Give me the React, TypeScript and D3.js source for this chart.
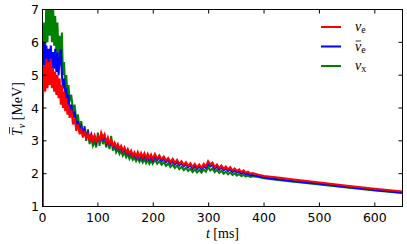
import React from 'react';
import * as d3 from 'd3';

// sample times [ms]
const TIME = [
  0,
  1, 3, 5, 7, 9, 11, 13, 15, 17, 19, 21, 23, 25, 27, 29, 31, 33, 35, 37, 39, 41, 43, 45, 47, 49,
  52, 55, 58, 61, 64, 67, 70, 73, 76, 79, 82, 85, 88, 91, 94, 97, 100, 103, 106, 109, 112, 115, 118, 121,
  124, 127, 130, 133, 136, 139, 142, 145, 148, 151, 154, 157, 160, 163, 166, 169, 172, 175, 178, 181,
  184, 187, 190, 193, 196, 199,
  203, 207, 211, 215, 219, 223, 227, 231, 235, 239, 243, 247, 251, 255, 259, 263, 267, 271, 275, 279,
  283, 287, 291, 295, 299, 303, 307, 311, 315, 319, 323, 327, 331, 335, 339, 343, 347, 351, 355, 359,
  363, 367, 371, 375, 379,
  390, 400, 425, 450, 500, 550, 600, 650,
];

// mean energies [MeV]
const NU_E = [
  1.0,
  4.4, 5.3, 4.5, 5.5, 4.6, 5.4, 4.7, 5.5, 4.6, 5.2, 4.5, 5.1, 4.4, 5.0, 4.3, 4.9, 4.1, 4.7, 4.0, 4.5, 3.9, 4.3, 3.8, 4.1, 3.7,
  3.95, 3.5, 3.7, 3.3, 3.5, 3.2, 3.35, 3.1, 3.3, 3.05, 3.25, 3.0, 3.2, 3.0, 3.15, 2.95, 3.15, 3.0, 3.25, 3.1, 3.2, 2.95, 3.1, 2.9,
  3.05, 2.85, 2.95, 2.8, 2.9, 2.75, 2.85, 2.7, 2.8, 2.65, 2.75, 2.6, 2.7, 2.55, 2.65, 2.52, 2.66, 2.5, 2.63, 2.5,
  2.62, 2.48, 2.6, 2.47, 2.58, 2.45,
  2.6, 2.46, 2.56, 2.44, 2.52, 2.4, 2.48, 2.36, 2.45, 2.33, 2.42, 2.3, 2.38, 2.27, 2.35, 2.24, 2.32, 2.2, 2.3, 2.19,
  2.28, 2.18, 2.3, 2.22, 2.38, 2.28, 2.34, 2.2, 2.28, 2.17, 2.25, 2.15, 2.22, 2.13, 2.2, 2.1, 2.16, 2.08, 2.13, 2.05,
  2.1, 2.03, 2.06, 2.0, 2.02,
  1.97, 1.93, 1.88, 1.83, 1.73, 1.63, 1.54, 1.46,
];

const NU_E_BAR = [
  1.0,
  5.2, 6.0, 5.3, 5.9, 5.2, 5.8, 5.3, 5.9, 5.2, 5.7, 5.2, 5.8, 5.1, 5.7, 5.0, 5.5, 5.8, 5.0, 4.6, 4.9, 4.3, 4.6, 4.1, 4.4, 3.9,
  4.1, 3.7, 3.9, 3.45, 3.6, 3.3, 3.45, 3.2, 3.35, 3.1, 3.25, 3.05, 3.2, 3.0, 3.15, 2.95, 3.1, 3.0, 3.2, 3.05, 3.15, 2.92, 3.05, 2.87,
  3.0, 2.82, 2.92, 2.77, 2.86, 2.72, 2.8, 2.67, 2.76, 2.62, 2.7, 2.57, 2.65, 2.52, 2.6, 2.48, 2.6, 2.46, 2.57, 2.45,
  2.56, 2.43, 2.54, 2.42, 2.52, 2.4,
  2.53, 2.41, 2.5, 2.38, 2.46, 2.35, 2.42, 2.31, 2.39, 2.28, 2.36, 2.25, 2.32, 2.22, 2.29, 2.19, 2.26, 2.15, 2.24, 2.14,
  2.22, 2.13, 2.24, 2.17, 2.3, 2.22, 2.27, 2.15, 2.22, 2.12, 2.19, 2.1, 2.16, 2.08, 2.14, 2.05, 2.1, 2.03, 2.07, 2.0,
  2.04, 1.98, 2.0, 1.95, 1.96,
  1.92, 1.88, 1.83, 1.78, 1.69, 1.59, 1.5, 1.42,
];

const NU_X = [
  1.0,
  5.6, 6.6, 5.8, 7.3, 6.0, 7.4, 6.2, 7.2, 6.0, 7.3, 5.9, 6.8, 5.7, 6.6, 5.5, 6.2, 5.3, 6.3, 5.0, 5.4, 4.6, 5.0, 4.4, 4.7, 4.2,
  4.4, 3.9, 4.1, 3.6, 3.8, 3.35, 3.6, 3.15, 3.45, 3.0, 3.35, 2.9, 3.1, 2.85, 3.0, 2.8, 3.25, 2.85, 3.2, 2.9, 3.05, 2.8, 3.0, 2.75,
  3.15, 2.7, 2.85, 2.65, 2.75, 2.6, 2.7, 2.55, 2.65, 2.5, 2.6, 2.45, 2.55, 2.42, 2.5, 2.38, 2.48, 2.36, 2.45, 2.34,
  2.44, 2.32, 2.42, 2.3, 2.4, 2.3,
  2.42, 2.3, 2.38, 2.27, 2.35, 2.24, 2.31, 2.2, 2.28, 2.17, 2.25, 2.14, 2.21, 2.11, 2.18, 2.08, 2.15, 2.05, 2.13, 2.04,
  2.11, 2.03, 2.13, 2.06, 2.2, 2.1, 2.16, 2.05, 2.12, 2.02, 2.09, 2.0, 2.06, 1.98, 2.04, 1.96, 2.01, 1.94, 1.99, 1.93,
  1.96, 1.91, 1.94, 1.9, 1.92,
  1.9, 1.86, 1.81, 1.76, 1.67, 1.58, 1.49, 1.41,
];

const X_TICKS = [0, 100, 200, 300, 400, 500, 600];
const Y_TICKS = [1, 2, 3, 4, 5, 6, 7];

const W = 407;
const H = 244;
const LEFT = 42.5, RIGHT = 402.5, TOP = 9.5, BOTTOM = 206.5;
const TICK = 4;

const SERIES = [
  { key: 'nux', values: NU_X, color: '#008000' },
  { key: 'nuebar', values: NU_E_BAR, color: '#0000ff' },
  { key: 'nue', values: NU_E, color: '#ff0000' },
];

const LEGEND = [
  { bar: false, sub: 'e', color: '#ff0000' },
  { bar: true, sub: 'e', color: '#0000ff' },
  { bar: false, sub: 'x', color: '#008000' },
];

export default function App() {
  const x = d3.scaleLinear().domain([0, 650]).range([LEFT, RIGHT]);
  const y = d3.scaleLinear().domain([1, 7]).range([BOTTOM, TOP]);
  const line = d3.line<number>().x((_, i) => x(TIME[i])).y(d => y(d));

  const serif = '"Liberation Serif", serif';
  const sans = '"DejaVu Sans", sans-serif';

  return (
    <svg width={W} height={H} style={{ position: 'absolute', left: 0, top: 0, background: '#fff' }}>
      <defs>
        <clipPath id="plot">
          <rect x={LEFT} y={TOP} width={RIGHT - LEFT} height={BOTTOM - TOP} />
        </clipPath>
      </defs>

      <g clipPath="url(#plot)">
        {SERIES.map(s => (
          <path key={s.key} d={line(s.values) || ''} fill="none" stroke={s.color} strokeWidth={2} />
        ))}
      </g>

      {/* frame + inward ticks */}
      <rect x={LEFT} y={TOP} width={RIGHT - LEFT} height={BOTTOM - TOP} fill="none" stroke="#000" strokeWidth={1} />
      {X_TICKS.map(t => (
        <g key={'xt' + t}>
          <line x1={x(t)} x2={x(t)} y1={BOTTOM} y2={BOTTOM - TICK} stroke="#000" />
          <line x1={x(t)} x2={x(t)} y1={TOP} y2={TOP + TICK} stroke="#000" />
          <text x={x(t)} y={221.7} textAnchor="middle" fontFamily={sans} fontSize={12.5}>{t}</text>
        </g>
      ))}
      {Y_TICKS.map(v => (
        <g key={'yt' + v}>
          <line x1={LEFT} x2={LEFT + TICK} y1={y(v)} y2={y(v)} stroke="#000" />
          <line x1={RIGHT} x2={RIGHT - TICK} y1={y(v)} y2={y(v)} stroke="#000" />
          <text x={39} y={y(v)} dy="0.36em" textAnchor="end" fontFamily={sans} fontSize={12.5}>{v}</text>
        </g>
      ))}

      {/* axis labels */}
      <text x={(LEFT + RIGHT) / 2} y={238} textAnchor="middle" fontFamily={serif} fontSize={14}>
        <tspan fontStyle="italic">t</tspan> [ms]
      </text>
      <g transform={`translate(22,${(TOP + BOTTOM) / 2}) rotate(-90)`}>
        <text x={-28} y={0} fontFamily={serif} fontSize={14}>
          <tspan fontStyle="italic">T</tspan>
          <tspan fontStyle="italic" fontSize={10} dy={3}>{'\u03bd'}</tspan>
          <tspan dy={-3}> [MeV]</tspan>
        </text>
        <line x1={-25.5} x2={-19} y1={-12.5} y2={-12.5} stroke="#000" strokeWidth={0.8} />
      </g>

      {/* legend */}
      {LEGEND.map((l, i) => {
        const ly = 27 + i * 19.5;
        return (
          <g key={'lg' + i}>
            <line x1={321} x2={341} y1={ly} y2={ly} stroke={l.color} strokeWidth={2} />
            <text x={355} y={ly + 4} fontFamily={serif} fontSize={14}>
              <tspan fontStyle="italic">{'\u03bd'}</tspan>
              <tspan fontSize={10} dy={2}>{l.sub}</tspan>
            </text>
            {l.bar && <line x1={355.5} x2={361} y1={ly - 5.5} y2={ly - 5.5} stroke="#000" strokeWidth={0.8} />}
          </g>
        );
      })}
    </svg>
  );
}
